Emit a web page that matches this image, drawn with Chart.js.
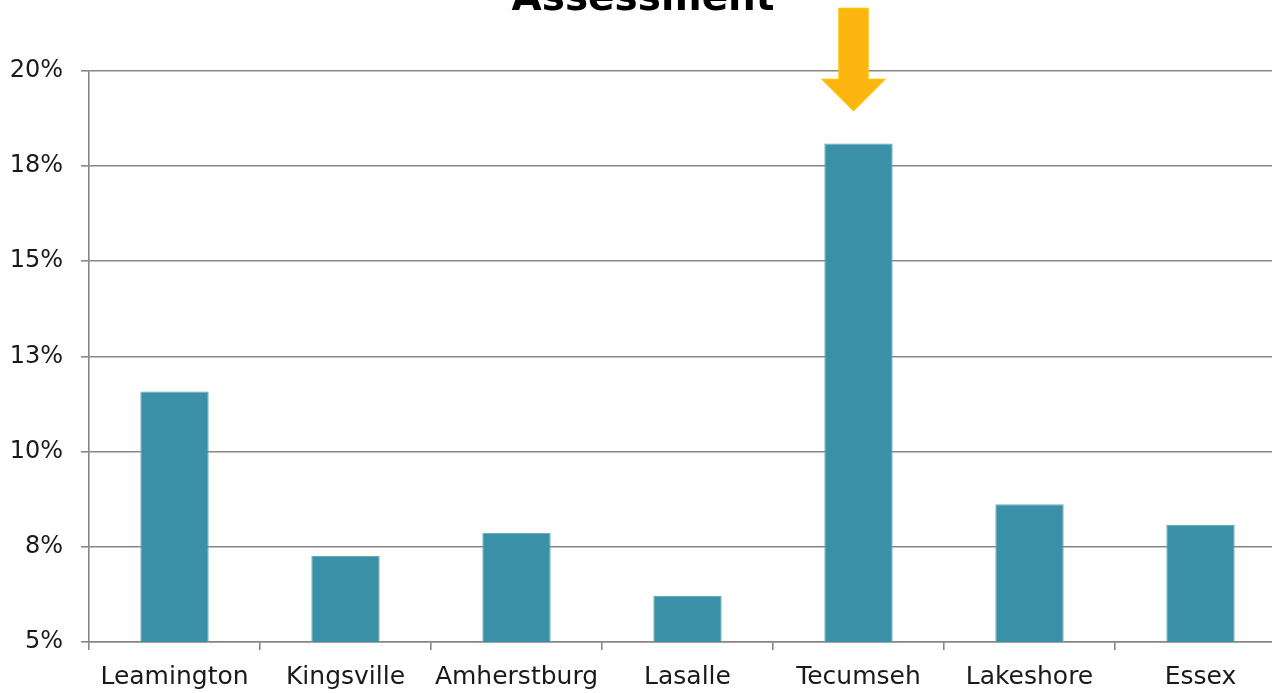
<!DOCTYPE html>
<html>
<head>
<meta charset="utf-8">
<script src="https://cdn.jsdelivr.net/npm/chart.js@4.4.1/dist/chart.umd.min.js"></script>
<style>
    html, body { margin: 0; padding: 0; background: #ffffff; overflow: hidden; }
    #wrap { position: absolute; left: 0; top: -40px; width: 1290px; height: 733px; }
</style>
</head>
<body>
<div id="wrap"><canvas id="chart"></canvas></div>
<script>
// Data
const towns = ['Leamington', 'Kingsville', 'Amherstburg', 'Lasalle', 'Tecumseh', 'Lakeshore', 'Essex'];
const shares = [11.58, 7.26, 7.86, 6.21, 18.09, 8.62, 8.07];
const highlightTown = 'Tecumseh';
const chartTitle = 'Assessment';

const gridGray = '#868686';
const textColor = '#1a1a1a';
const fontFamily = "'DejaVu Sans', 'Liberation Sans', sans-serif";

// Gold arrow pointing at the highlighted bar
const arrowPlugin = {
    id: 'arrow',
    afterDatasetsDraw(chart) {
        const idx = towns.indexOf(highlightTown);
        const bar = chart.getDatasetMeta(0).data[idx];
        if (!bar) return;
        const ctx = chart.ctx;
        const cx = bar.x - 5;
        const tip = bar.y - 33;
        const headH = 31;
        const headW = 31;
        const shaftW = 14.5;
        const top = tip - 102;
        ctx.save();
        ctx.beginPath();
        ctx.moveTo(cx - shaftW, top);
        ctx.lineTo(cx + shaftW, top);
        ctx.lineTo(cx + shaftW, tip - headH);
        ctx.lineTo(cx + headW, tip - headH);
        ctx.lineTo(cx, tip);
        ctx.lineTo(cx - headW, tip - headH);
        ctx.lineTo(cx - shaftW, tip - headH);
        ctx.closePath();
        ctx.fillStyle = '#FDB50F';
        ctx.fill();
        ctx.strokeStyle = '#FFC000';
        ctx.lineWidth = 1.5;
        ctx.stroke();
        ctx.restore();
    }
};

const ctx = document.getElementById('chart').getContext('2d');
new Chart(ctx, {
    type: 'bar',
    data: {
        labels: towns,
        datasets: [{
            data: shares,
            backgroundColor: '#3A90A6',
            borderColor: '#68AEC0',
            borderWidth: 1,
            borderSkipped: 'bottom',
            categoryPercentage: 1.0,
            barPercentage: 0.4
        }]
    },
    options: {
        responsive: true,
        maintainAspectRatio: false,
        animation: false,
        layout: { padding: { left: 0, right: 4, top: 0, bottom: 0 } },
        plugins: {
            legend: { display: false },
            tooltip: { enabled: false },
            title: {
                display: true,
                text: chartTitle,
                color: '#000000',
                font: { family: fontFamily, size: 39, weight: 'bold' },
                padding: { top: 16, bottom: 48 }
            }
        },
        scales: {
            x: {
                grid: {
                    display: true,
                    drawOnChartArea: false,
                    drawTicks: true,
                    tickLength: 8,
                    color: gridGray,
                    lineWidth: 1.6
                },
                border: { display: true, color: gridGray, width: 1.6 },
                ticks: {
                    color: textColor,
                    font: { family: fontFamily, size: 25 },
                    padding: 12,
                    maxRotation: 0,
                    autoSkip: false
                },
                afterFit(scale) { scale.height = 51; }
            },
            y: {
                min: 5,
                max: 20,
                grid: {
                    color: gridGray,
                    lineWidth: 1.6,
                    tickLength: 8
                },
                border: { display: true, color: gridGray, width: 1.6 },
                ticks: {
                    stepSize: 2.5,
                    color: textColor,
                    font: { family: fontFamily, size: 24 },
                    padding: 18,
                    callback: v => Math.round(v) + '%'
                },
                afterFit(scale) { scale.width = 89; }
            }
        }
    },
    plugins: [arrowPlugin]
});
</script>
</body>
</html>
